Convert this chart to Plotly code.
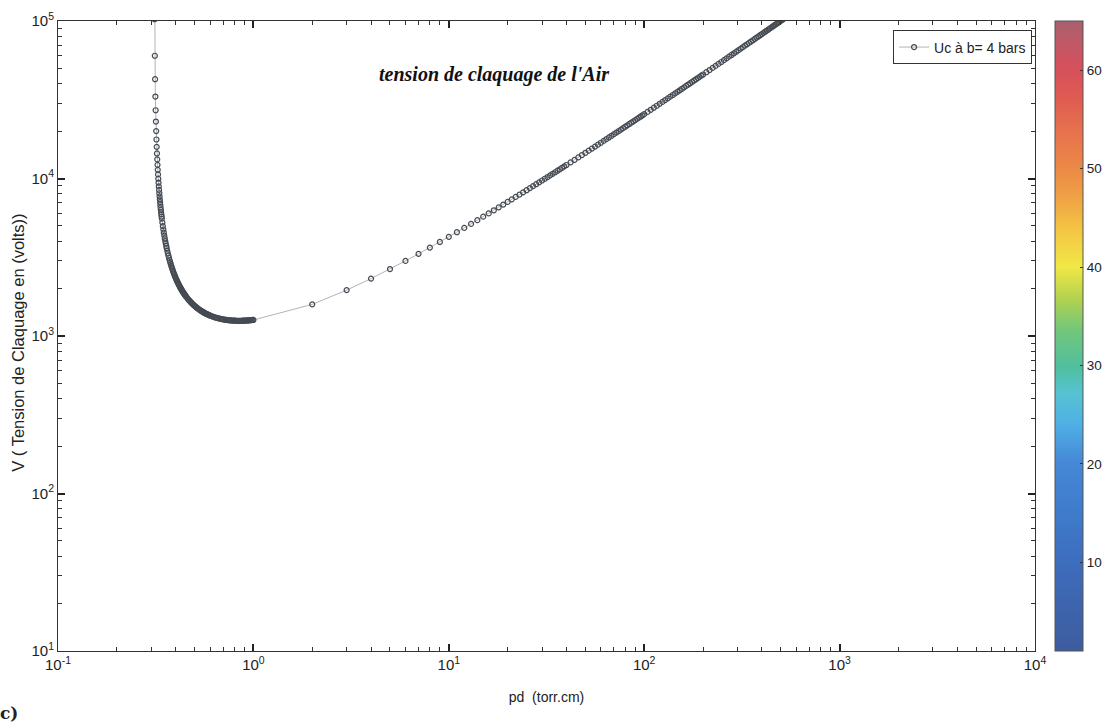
import plotly.graph_objects as go

# ---------------- data ----------------
# left branch (near the asymptote up to pd = 1 torr.cm)
pd_left = [0.311, 0.312, 0.313, 0.314, 0.315, 0.316, 0.317, 0.318, 0.319, 0.320,
           0.321, 0.322, 0.323, 0.324, 0.325, 0.326, 0.327, 0.328, 0.329, 0.330,
           0.331, 0.332, 0.333, 0.334, 0.335, 0.336, 0.337, 0.338, 0.339, 0.340,
           0.342, 0.344, 0.346, 0.348, 0.350, 0.352, 0.354, 0.356, 0.358, 0.360,
           0.3625, 0.365, 0.3675, 0.370, 0.3725, 0.375, 0.3775, 0.380, 0.3825, 0.385,
           0.3875, 0.390, 0.3925, 0.395, 0.3975, 0.400, 0.4025, 0.405, 0.4075, 0.410,
           0.4125, 0.415, 0.4175, 0.420, 0.4225, 0.425, 0.4275, 0.430, 0.4325, 0.435,
           0.4375, 0.440, 0.4425, 0.445, 0.4475, 0.450, 0.455, 0.460, 0.465, 0.470,
           0.475, 0.480, 0.485, 0.490, 0.495, 0.500, 0.505, 0.510, 0.515, 0.520,
           0.525, 0.530, 0.535, 0.540, 0.545, 0.550, 0.555, 0.560, 0.565, 0.570,
           0.575, 0.580, 0.585, 0.590, 0.595, 0.600,
           0.61, 0.62, 0.63, 0.64, 0.65, 0.66, 0.67, 0.68, 0.69, 0.70,
           0.71, 0.72, 0.73, 0.74, 0.75, 0.76, 0.77, 0.78, 0.79, 0.80,
           0.81, 0.82, 0.83, 0.84, 0.85, 0.86, 0.87, 0.88, 0.89, 0.90,
           0.91, 0.92, 0.93, 0.94, 0.95, 0.96, 0.97, 0.98, 0.99]
v_left = [357600, 102680, 60180, 42690, 33140, 27130, 23000, 19990, 17690, 15880,
          14425, 13220, 12211, 11350, 10614, 9970, 9405, 8906, 8461, 8061,
          7701, 7375, 7077, 6806, 6556, 6326, 6114, 5917, 5734, 5564,
          5256, 4985, 4745, 4530, 4337, 4163, 4006, 3862, 3731, 3610,
          3472, 3347, 3233, 3129, 3034, 2946, 2864, 2789, 2719, 2653,
          2593, 2536, 2482, 2432, 2385, 2340, 2298, 2259, 2221, 2185,
          2152, 2120, 2089, 2060, 2032, 2006, 1981, 1956, 1933, 1911,
          1890, 1870, 1850, 1832, 1814, 1796, 1764, 1734, 1705, 1679,
          1655, 1632, 1611, 1591, 1572, 1554, 1538, 1522, 1507, 1493,
          1480, 1468, 1456, 1445, 1435, 1425, 1415, 1406, 1398, 1389,
          1382, 1374, 1368, 1361, 1355, 1349,
          1338, 1328, 1318, 1310, 1303, 1296, 1290, 1284, 1279, 1275,
          1271, 1267, 1264, 1262, 1259, 1257, 1255, 1254, 1252, 1251,
          1251, 1250, 1250, 1250, 1250, 1250, 1250, 1251, 1251, 1252,
          1253, 1254, 1255, 1256, 1258, 1259, 1261, 1262, 1264]

# right branch (pd = 1 ... 512 torr.cm)
pd_right = [1, 2, 3, 4, 5, 6, 7, 8, 9, 10, 11, 12, 13, 14, 15, 16, 17, 18, 19, 20,
            21, 22, 23, 24, 25, 26, 27, 28, 29, 30, 31, 32, 33, 34, 35, 36, 37, 38, 39, 40,
            42, 44, 46, 48, 50, 52, 54, 56, 58, 60, 62, 64, 66, 68, 70, 72, 74, 76, 78, 80,
            82, 84, 86, 88, 90, 92, 94, 96, 98, 100,
            104, 108, 112, 116, 120, 124, 128, 132, 136, 140, 144, 148, 152, 156, 160,
            164, 168, 172, 176, 180, 184, 188, 192, 196, 200,
            208, 216, 224, 232, 240, 248, 256, 264, 272, 280, 288, 296, 304, 312, 320,
            328, 336, 344, 352, 360, 368, 376, 384, 392, 400, 408, 416, 424, 432, 440,
            448, 456, 464, 472, 480, 488, 496, 504, 512]
v_right = [1264, 1588, 1956, 2315, 2661, 2997, 3324, 3642, 3954, 4261,
           4561, 4858, 5150, 5438, 5723, 6004, 6283, 6559, 6832, 7104,
           7372, 7639, 7904, 8167, 8428, 8688, 8946, 9202, 9457, 9710,
           9963, 10214, 10464, 10712, 10959, 11206, 11451, 11695, 11939, 12181,
           12663, 13141, 13616, 14089, 14558, 15024, 15488, 15949, 16408, 16864,
           17319, 17771, 18221, 18669, 19116, 19560, 20003, 20444, 20883, 21321,
           21757, 22192, 22625, 23057, 23488, 23917, 24345, 24772, 25197, 25622,
           26467, 27308, 28144, 28977, 29805, 30630, 31452, 32270, 33084, 33896,
           34704, 35510, 36313, 37113, 37910, 38705, 39497, 40287, 41074, 41860,
           42643, 43424, 44202, 44979, 45753,
           47297, 48832, 50361, 51883, 53399, 54908, 56411, 57909, 59401, 60888,
           62369, 63846, 65317, 66784, 68247, 69706, 71159, 72609, 74055, 75497,
           76935, 78369, 79799, 81227, 82651, 84072, 85489, 86903, 88315, 89722,
           91127, 92530, 93928, 95325, 96719, 98111, 99499, 100885, 102269]

series_name = "Uc à b= 4 bars"
title_text = "tension de claquage de l'Air"
x_title = "pd  (torr.cm)"
y_title = "V ( Tension de Claquage en (volts))"
panel_label = "c)"
x_tick_vals = [0.1, 1, 10, 100, 1000, 10000]
x_tick_text = ["10<sup>-1</sup>", "10<sup>0</sup>", "10<sup>1</sup>", "10<sup>2</sup>",
               "10<sup>3</sup>", "10<sup>4</sup>"]
y_tick_vals = [10, 100, 1000, 10000, 100000]
y_tick_text = ["10<sup>1</sup>", "10<sup>2</sup>", "10<sup>3</sup>", "10<sup>4</sup>",
               "10<sup>5</sup>"]
minor_digits = [2, 3, 4, 5, 6, 7, 8, 9]
x_log_range = [-1, 4]
y_log_range = [1, 5]
cbar_range = [1, 65]
cbar_ticks = [10, 20, 30, 40, 50, 60]

pd_values = pd_left + pd_right
voltage_values = v_left + v_right

x_minor = [d * t for t in x_tick_vals[:-1] for d in minor_digits]
y_minor = [d * t for t in y_tick_vals[:-1] for d in minor_digits]

# muted "jet"-like colormap of the scanned colorbar
colorscale = [
    [0.00, "#3e5c9e"], [0.14, "#3d6dbd"], [0.22, "#3f7bcc"], [0.30, "#4688d6"],
    [0.36, "#4fb0e6"], [0.41, "#56c3d2"], [0.45, "#50bf9f"], [0.51, "#72c77a"],
    [0.56, "#b4d24e"], [0.61, "#f1e846"], [0.67, "#f4c444"], [0.72, "#f0a245"],
    [0.77, "#eb8747"], [0.83, "#e6704e"], [0.88, "#df5a52"], [0.93, "#d4505c"],
    [0.97, "#bd5a68"], [1.00, "#a8606e"],
]

SANS = "Liberation Sans, Arial, sans-serif"

fig = go.Figure()

fig.add_trace(go.Scatter(
    x=pd_values, y=voltage_values, mode="lines+markers", name=series_name,
    line=dict(color="#9aa0a6", width=0.8),
    marker=dict(symbol="circle-open", size=5, color="#454b52", line=dict(width=1.2)),
    showlegend=True,
))

# colorbar holder (no visible marks)
fig.add_trace(go.Scatter(
    x=[None], y=[None], mode="markers", showlegend=False, hoverinfo="skip",
    marker=dict(color=cbar_range, cmin=cbar_range[0], cmax=cbar_range[1],
                colorscale=colorscale, showscale=True,
                colorbar=dict(
                    x=1.0205, xanchor="left", y=0.5, yanchor="middle",
                    len=1.0, lenmode="fraction", thickness=28,
                    outlinecolor="#555", outlinewidth=1,
                    tickvals=cbar_ticks, ticks="inside", ticklen=3, tickcolor="#333",
                    tickfont=dict(family=SANS, size=13.5, color="#222"),
                    xpad=0, ypad=0,
                )),
))

def axis_style(tvals, ttext, minor_vals):
    return dict(
        type="log", showgrid=False, zeroline=False,
        showline=True, linecolor="#333", linewidth=1, mirror="allticks",
        ticks="inside", ticklen=7, tickwidth=1.5, tickcolor="#222",
        tickvals=tvals, ticktext=ttext,
        tickfont=dict(family=SANS, size=15, color="#222"),
        minor=dict(ticks="inside", ticklen=4, tickwidth=1.3, tickcolor="#333",
                   tickvals=minor_vals, showgrid=False),
    )

fig.update_xaxes(range=x_log_range,
                 title=dict(text=x_title, font=dict(family=SANS, size=14, color="#222"), standoff=20),
                 **axis_style(x_tick_vals, x_tick_text, x_minor))
fig.update_yaxes(range=y_log_range, **axis_style(y_tick_vals, y_tick_text, y_minor))

# y-axis title placed as rotated text
fig.add_annotation(
    text=y_title, xref="paper", yref="paper", x=-0.0405, y=0.49,
    textangle=-90, showarrow=False, xanchor="center", yanchor="middle",
    font=dict(family=SANS, size=16.5, color="#222"),
)
fig.add_annotation(
    text="<b><i>" + title_text + "</i></b>", xref="paper", yref="paper", x=0.446, y=0.915,
    showarrow=False, xanchor="center", yanchor="middle",
    font=dict(family="Liberation Serif, Times New Roman, serif", size=20, color="#111"),
)
fig.add_annotation(
    text="<b>" + panel_label + "</b>", xref="paper", yref="paper", x=-0.050, y=-0.098,
    showarrow=False, xanchor="center", yanchor="middle",
    font=dict(family="DejaVu Serif, serif", size=17, color="#222"),
)

fig.update_layout(
    width=1103, height=725,
    margin=dict(l=58, r=68, t=21, b=74, autoexpand=False),
    paper_bgcolor="white", plot_bgcolor="white",
    legend=dict(x=0.997, xanchor="right", y=0.985, yanchor="top",
                bordercolor="#333", borderwidth=1, bgcolor="white",
                font=dict(family=SANS, size=14, color="#222"),
                tracegroupgap=0, itemwidth=30),
    showlegend=True,
)

fig.write_html("out.html")
